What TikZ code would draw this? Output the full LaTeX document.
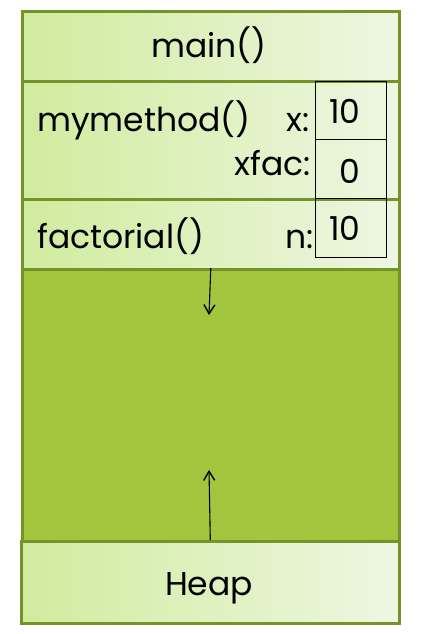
\documentclass[tikz,border=0pt]{standalone}
\usepackage{fontspec}
\setmainfont{Poppins}
\usepackage{tikz}
\usetikzlibrary{arrows.meta,positioning}
\definecolor{stackline}{HTML}{74942A}
\definecolor{stackpale}{HTML}{D0EC9E}
\definecolor{stackwhite}{HTML}{EEF6E2}
\definecolor{stackfree}{HTML}{A1C53D}

\begin{document}
\begin{tikzpicture}[
  x=1pt, y=-1pt,
  frame/.style={draw=stackline, line width=2.6pt, left color=stackpale, right color=stackwhite, minimum width=377pt, inner sep=0pt, anchor=north west},
  cell/.style={draw=black, line width=1.1pt, minimum width=71pt, inner sep=0pt, anchor=north west},
  txt/.style={font=\fontsize{33}{38}\selectfont, inner sep=0pt},
  arrow/.style={-{Straight Barb[length=9pt,width=11pt,line width=1.4pt]}, draw=black, line width=1.1pt}
]
\useasboundingbox (0,0) rectangle (420,634);

% stack frames
\node[frame, minimum height=70pt] (main) at (21,10) {};
\node[frame, minimum height=118pt] (mymethod) at (21,80) {};
\node[frame, minimum height=70pt] (factorial) at (21,198) {};
\node[frame, left color=stackfree, right color=stackfree, minimum height=272pt] (free) at (21,268) {};
\node[frame, minimum height=82pt, minimum width=378pt] (heap) at (20,540) {};

% variable cells
\node[cell, minimum height=58pt] (xcell) at (315,81) {};
\node[cell, minimum height=59pt] (xfaccell) at (315,139) {};
\node[cell, minimum height=59pt] (ncell) at (315,198) {};

% labels
\node[txt, anchor=base] (mainlbl) at (209,58) {main()};
\node[txt, anchor=base west] (mymethodlbl) at (37,131) {mymethod()};
\node[txt, anchor=base east] (xlbl) at (310,131) {x:};
\node[txt, anchor=base east] (xfaclbl) at (311,175) {xfac:};
\node[txt, anchor=base west] (factoriallbl) at (37,248) {factorial()};
\node[txt, anchor=base east] (nlbl) at (314,248) {n:};
\node[txt, anchor=base] (xval) at (345,123) {10};
\node[txt, anchor=base] (xfacval) at (350,183) {0};
\node[txt, anchor=base] (nval) at (345,240) {10};
\node[txt, anchor=base] (heaplbl) at (209,595) {Heap};

% growth arrows
\coordinate (stackgrow) at (209,315);
\coordinate (heapgrow) at (209,470);
\draw[arrow] (free.north) -- (stackgrow);
\draw[arrow] (heap.north) -- (heapgrow);
\end{tikzpicture}
\end{document}
